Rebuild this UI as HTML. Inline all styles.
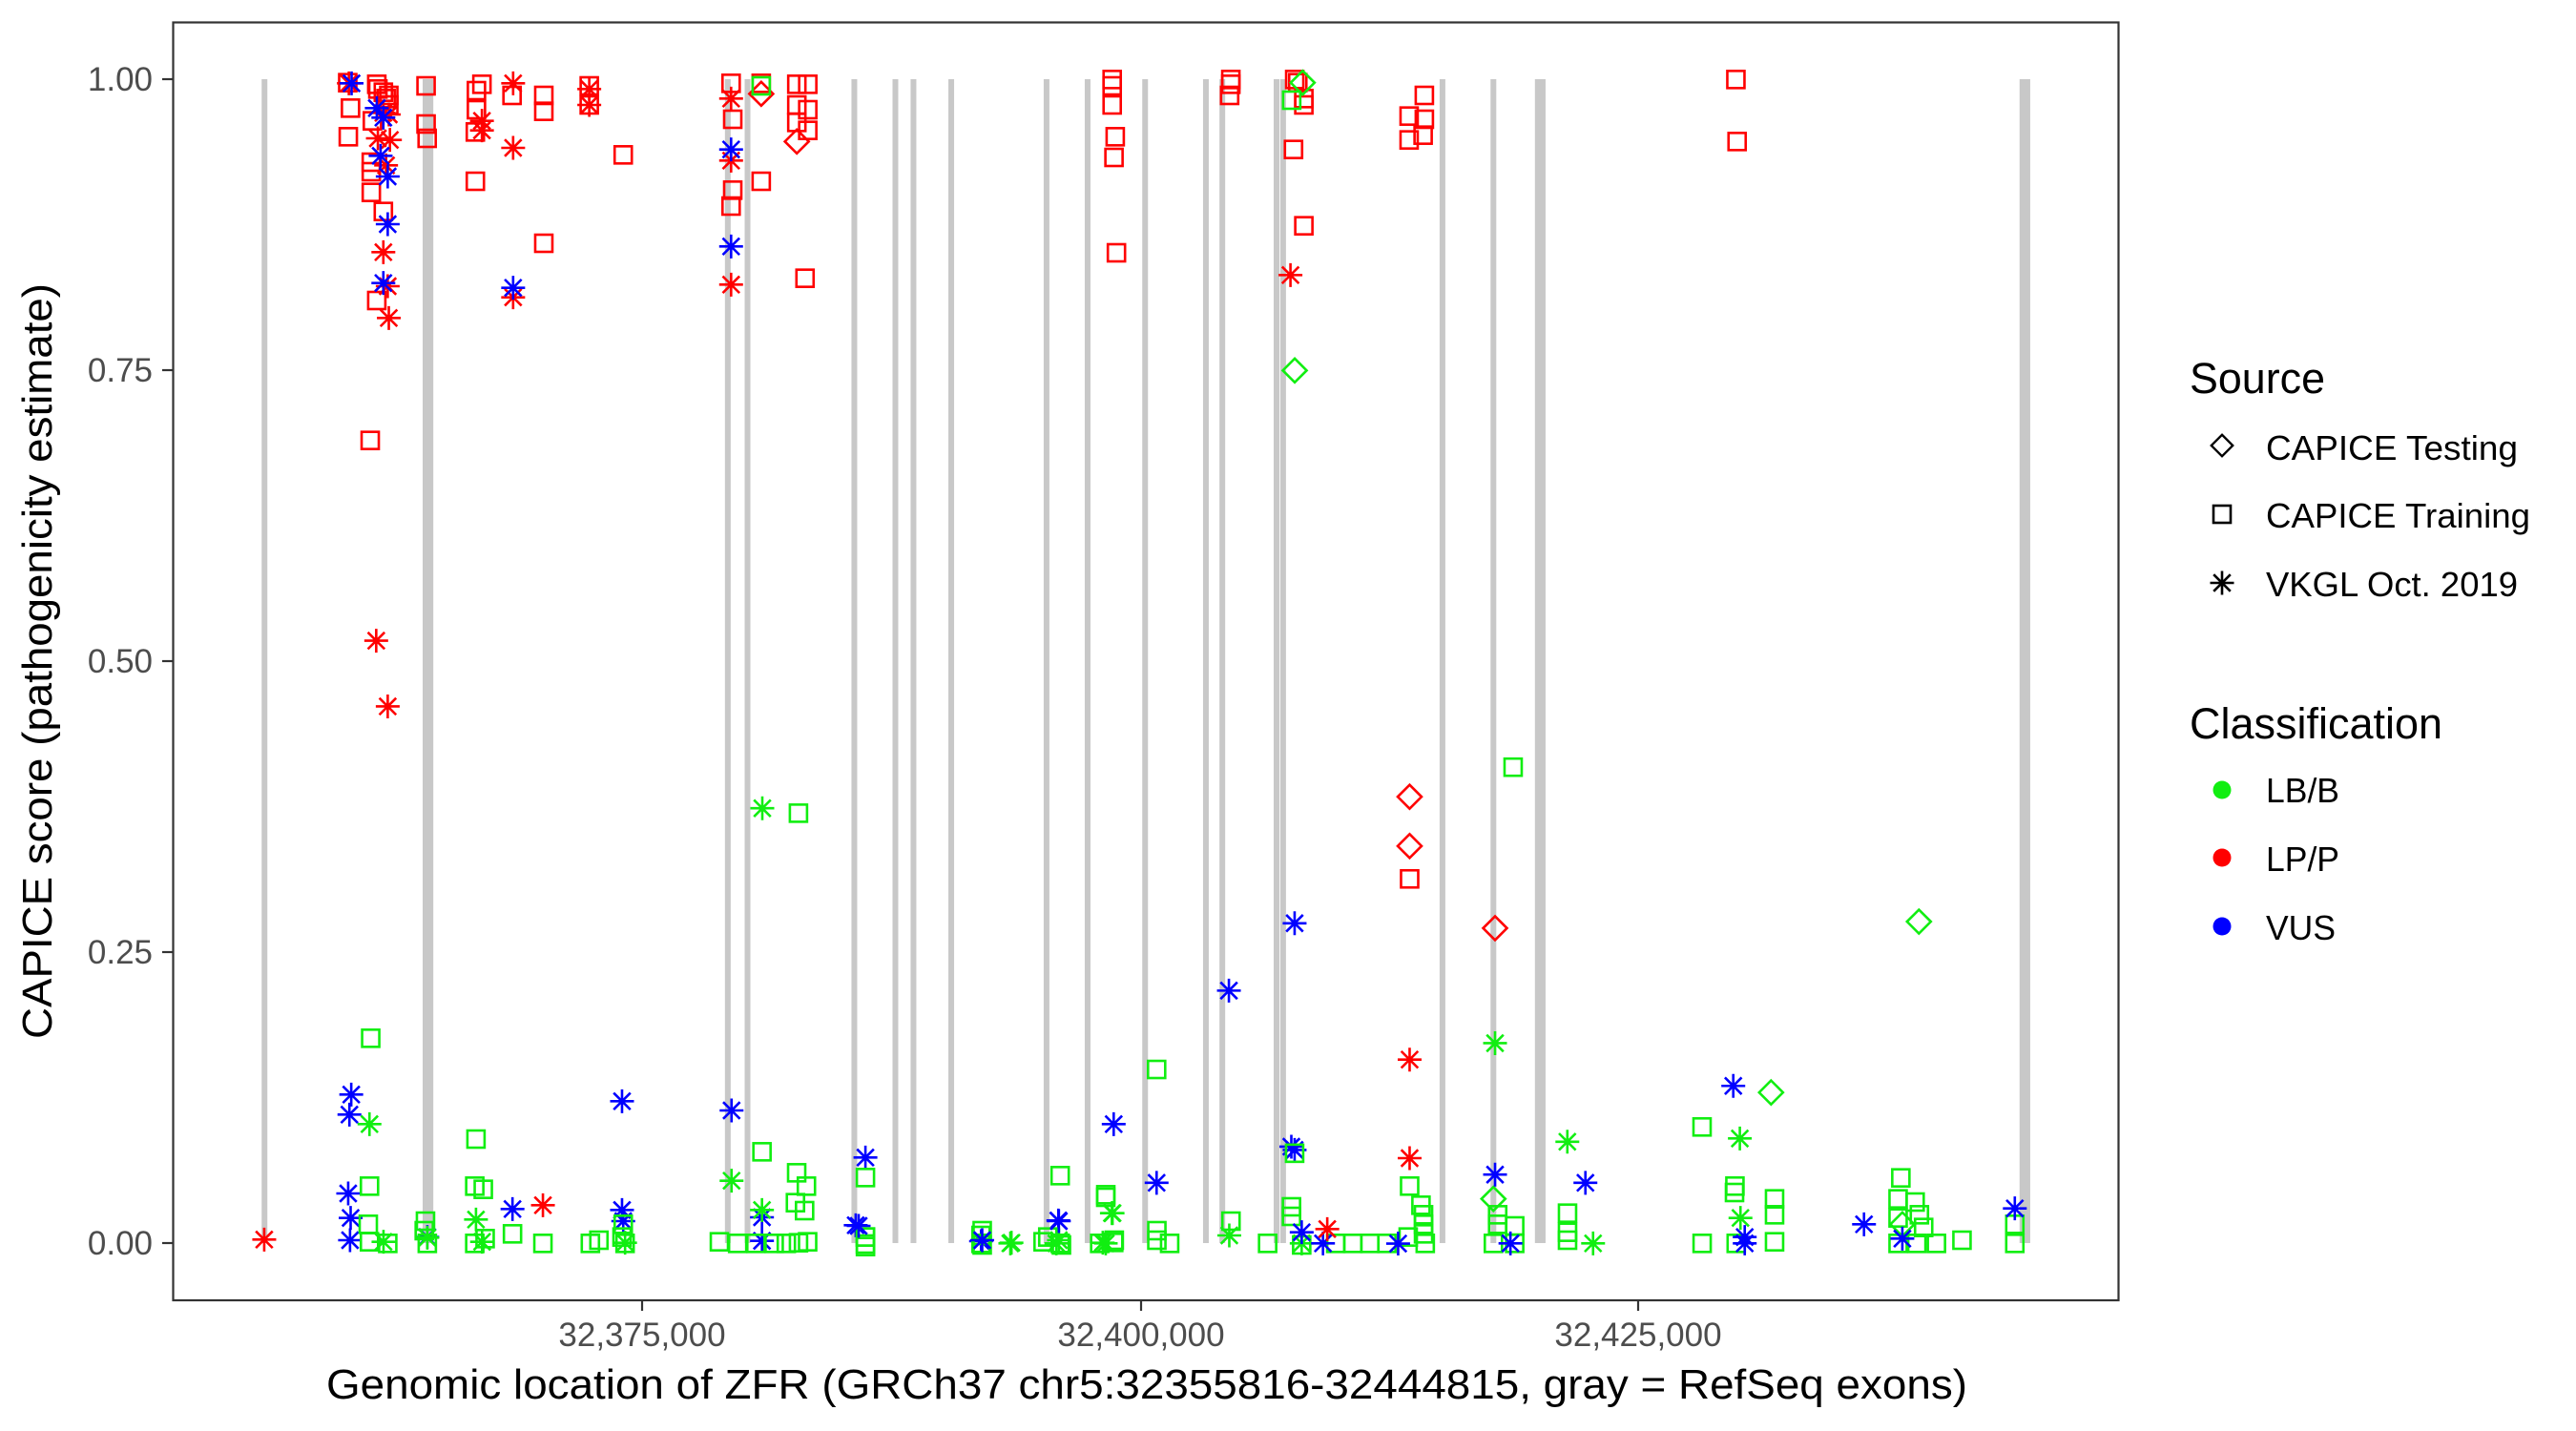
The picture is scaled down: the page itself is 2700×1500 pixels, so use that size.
<!DOCTYPE html>
<html><head><meta charset="utf-8"><style>
html,body{margin:0;padding:0;background:#fff;}
svg{display:block;font-family:"Liberation Sans",Arial,sans-serif;}
</style></head><body>
<svg id="s" width="2700" height="1500" viewBox="0 0 2700 1500" xmlns="http://www.w3.org/2000/svg">
<rect x="0" y="0" width="2700" height="1500" fill="#fff"/>
<g id="ex" stroke="#c8c8c8" stroke-width="6"></g>
<g id="pts" fill="none" stroke-width="2.6"></g>
<rect x="181.5" y="23.5" width="2039" height="1339.5" fill="none" stroke="#333" stroke-width="2.2"/>
<g stroke="#333" stroke-width="2.2">
<line x1="170" y1="83" x2="181" y2="83"/><line x1="170" y1="388" x2="181" y2="388"/><line x1="170" y1="693" x2="181" y2="693"/><line x1="170" y1="998" x2="181" y2="998"/><line x1="170" y1="1303" x2="181" y2="1303"/>
<line x1="673" y1="1363" x2="673" y2="1374"/><line x1="1196" y1="1363" x2="1196" y2="1374"/><line x1="1717" y1="1363" x2="1717" y2="1374"/>
</g>
<g fill="#4d4d4d" font-size="35" text-anchor="end">
<text x="160" y="95">1.00</text><text x="160" y="400">0.75</text><text x="160" y="705">0.50</text><text x="160" y="1010">0.25</text><text x="160" y="1315">0.00</text>
</g>
<g fill="#4d4d4d" font-size="35" text-anchor="middle">
<text x="673" y="1411">32,375,000</text><text x="1196" y="1411">32,400,000</text><text x="1717" y="1411">32,425,000</text>
</g>
<text x="1202" y="1466" font-size="44" text-anchor="middle" textLength="1720" lengthAdjust="spacingAndGlyphs">Genomic location of ZFR (GRCh37 chr5:32355816-32444815, gray = RefSeq exons)</text>
<text transform="translate(54,693) rotate(-90)" font-size="44" text-anchor="middle" textLength="792" lengthAdjust="spacingAndGlyphs">CAPICE score (pathogenicity estimate)</text>
<text x="2295" y="412" font-size="45" textLength="142" lengthAdjust="spacingAndGlyphs">Source</text>
<g font-size="36">
<text x="2375" y="482" textLength="264" lengthAdjust="spacingAndGlyphs">CAPICE Testing</text>
<text x="2375" y="553" textLength="277" lengthAdjust="spacingAndGlyphs">CAPICE Training</text>
<text x="2375" y="625" textLength="264" lengthAdjust="spacingAndGlyphs">VKGL Oct. 2019</text>
</g>
<text x="2295" y="774" font-size="45" textLength="265" lengthAdjust="spacingAndGlyphs">Classification</text>
<g font-size="36">
<text x="2375" y="841" textLength="77" lengthAdjust="spacingAndGlyphs">LB/B</text>
<text x="2375" y="913" textLength="77" lengthAdjust="spacingAndGlyphs">LP/P</text>
<text x="2375" y="985" textLength="73" lengthAdjust="spacingAndGlyphs">VUS</text>
</g>
<circle cx="2329" cy="828" r="9.5" fill="#11ee11"/>
<circle cx="2329" cy="899" r="9.5" fill="#ff0000"/>
<circle cx="2329" cy="971" r="9.5" fill="#0000ff"/>
<g id="leg" fill="none" stroke="#000" stroke-width="2.6"></g>
</svg>
<script>
var NS="http://www.w3.org/2000/svg";
var C={g:"#11ee11",r:"#ff0000",b:"#0000ff",k:"#000"};
function el(t,a,p){var e=document.createElementNS(NS,t);for(var k in a)e.setAttribute(k,a[k]);p.appendChild(e);return e;}
function mk(t,c,x,y,p){
  var col=C[c];
  if(t=="s"){el("rect",{x:x-9,y:y-9,width:18,height:18,stroke:col},p);}
  else if(t=="d"){el("path",{d:"M"+x+" "+(y-12.5)+"L"+(x+12.5)+" "+y+"L"+x+" "+(y+12.5)+"L"+(x-12.5)+" "+y+"Z",stroke:col},p);}
  else {var r=12.5,q=8.8;el("path",{d:"M"+x+" "+(y-r)+"V"+(y+r)+"M"+(x-r)+" "+y+"H"+(x+r)+"M"+(x-q)+" "+(y-q)+"L"+(x+q)+" "+(y+q)+"M"+(x-q)+" "+(y+q)+"L"+(x+q)+" "+(y-q),stroke:col},p);}
}
var ex=document.getElementById("ex");
[161,259,262,443,455,520,545,556,579,637,662,697,734,744,777,781,878,909,936,939,1231,1234].forEach(function(d){var x=d*1.722;el("line",{x1:x,y1:83,x2:x,y2:1303},ex);});
var P=document.getElementById("pts");
function grp(cx,cy,sx,sy,s){s.trim().split(/\s*;\s*/).forEach(function(it){if(!it)return;var a=it.trim().split(/\s+/);mk(a[0],a[1],cx+parseFloat(a[2])*sx,cy+parseFloat(a[3])*sy,P);});}
// zoom1 (crop 0,0)
grp(0,0,0.574,1/3,
"s r 635 260;s r 640 340;s r 688 265;s r 700 290;s r 705 310;s r 680 380;s r 710 300;s r 778 270;s r 778 390;s r 780 435;s r 870 285;s r 880 265;s r 870 345;s r 868 415;s r 868 570;s r 935 300;s r 993 300;s r 993 350;s r 993 765;s r 1076 270;s r 1076 330;s r 1138 487;s r 636 430;s r 678 510;s r 678 540;s r 678 605;s r 700 665;s r 688 945;s r 676 1385;s r 1335 262;s r 1338 375;s r 1338 598;s r 1335 648;s r 1390 262;s r 1390 570;s r 1455 265;s r 1475 265;s r 1455 330;s r 1475 345;s r 1455 385;s r 1475 410;s r 1470 875;s r 690 280;s r 710 330;"+
"a r 637 262;a r 700 355;a r 710 360;a r 690 435;a r 712 440;a r 705 520;a r 700 793;a r 708 900;a r 710 1000;a r 880 380;a r 880 410;a r 937 262;a r 937 465;a r 937 935;a r 1076 280;a r 1076 330;a r 1335 310;a r 1335 505;a r 1335 895;"+
"a b 642 262;a b 688 340;a b 700 370;a b 695 490;a b 708 555;a b 708 705;a b 700 890;a b 937 905;a b 1335 470;a b 1335 775;"+
"d r 1390 295;d r 1455 445;s g 1390 270");
// zoom5 (crop 850,50)
grp(850,50,0.6378,1/3,
"s r 495 100;s r 495 120;s r 495 180;s r 500 280;s r 498 345;s r 502 645;s r 690 100;s r 690 115;s r 688 150;s r 795 100;s r 800 110;s r 810 160;s r 810 180;s r 793 320;s r 810 560;s r 1008 150;s r 983 215;s r 1008 225;s r 983 290;s r 1006 275;s r 1520 100;s r 1522 295;"+
"d g 808 110;d g 795 1015;s g 790 165;a r 788 715");
// zoom6 (crop 180,1050)
grp(180,1050,0.6378,1/3,
"a r 152 748;a r 610 640;"+
"a b 295 292;a b 292 355;a b 290 603;a b 294 680;a b 293 750;a b 740 313;a b 740 655;a b 742 690;a b 920 342;a b 970 678;a b 970 752;a b 1140 490;a b 1124 703;a b 1330 753;a b 1457 688;a b 1548 385;a b 560 652;a b 420 740;"+
"a g 325 385;a g 348 755;a g 420 742;a g 500 685;a g 510 755;a g 970 655;a g 920 563;a g 1380 758;a g 1458 750;a g 1545 665;a g 1530 758;a g 745 758;"+
"s g 327 115;s g 325 580;s g 323 700;s g 325 755;s g 355 760;s g 417 690;s g 415 720;s g 420 760;s g 500 432;s g 498 580;s g 512 590;s g 498 760;s g 515 745;s g 560 730;s g 610 760;s g 688 760;s g 702 750;s g 742 700;s g 745 760;s g 740 740;s g 970 472;s g 1027 538;s g 1043 580;s g 1025 632;s g 1040 657;s g 900 755;s g 930 760;s g 960 760;s g 990 760;s g 1010 760;s g 1030 758;s g 1045 755;s g 1140 553;s g 1140 740;s g 1140 762;s g 1460 547;s g 1535 607;s g 1432 755;s g 1460 760;s g 1525 760;s g 1548 757;s g 1330 735;s g 1330 760");
// zoom4 (crop 900,1250)
grp(900,1250,0.893,1/3,
"s g 8 140;s g 8 170;s g 145 120;s g 145 165;s g 222 140;s g 238 165;s g 290 15;s g 300 150;s g 350 120;s g 350 150;s g 365 160;s g 437 90;s g 480 160;s g 508 45;s g 508 75;s g 520 165;s g 560 160;s g 580 160;s g 600 160;s g 620 160;s g 645 140;s g 660 40;s g 663 70;s g 663 100;s g 663 130;s g 665 160;s g 745 160;s g 750 70;s g 750 100;s g 770 105;s g 770 160;s g 832 65;s g 832 125;s g 832 150;s g 990 160;s g 1028 0;s g 1030 160;s g 1075 20;s g 1075 70;s g 1075 155;s g 1220 20;s g 1220 80;s g 1240 30;s g 1245 70;s g 1250 110;s g 1220 160;s g 1265 160;s g 1295 150;s g 1357 100;s g 1357 160;s g 1242 160;"+
"a g 178 160;a g 298 65;a g 435 135;a g 290 160;a g 232 160;a g 1035 80;a g 862 160;a g 520 160;d g 745 20;d g 1225 100;"+
"a b 0 105;a b 145 150;a b 235 90;a b 520 125;a b 545 160;a b 765 160;a b 1040 140;a b 1040 160;a b 1180 100;a b 1225 145;a b 1357 50;a r 550 115");
// remaining from overview (display coords)
grp(0,0,1.722,1.722,
"a r 229 390;a r 236 430;a g 464 492;s g 486 495;a b 748 603;a b 788 562;s g 704 651;a b 704 720;"+
"a r 858 645;a r 858 705;d r 858 485;d r 858 515;s r 858 535;d r 910 565;a g 910 635;s g 921 467;a b 910 715;"+
"a b 965 720;a g 954 695;s g 1036 686;a b 1055 661;a g 1059 693;d g 1078 665;d g 1168 561;s g 1056 722;s g 1157 717;"+
"a b 786 698;a b 788 700;s g 788 702;s g 858 722;a b 851 757");
var L=document.getElementById("leg");
mk("d","k",2329,467,L);L.lastChild.setAttribute("transform","translate(2329 467) scale(0.9) translate(-2329 -467)");
el("rect",{x:2320,y:530,width:18,height:18},L);
mk("a","k",2329,611,L);
</script>
</body></html>
